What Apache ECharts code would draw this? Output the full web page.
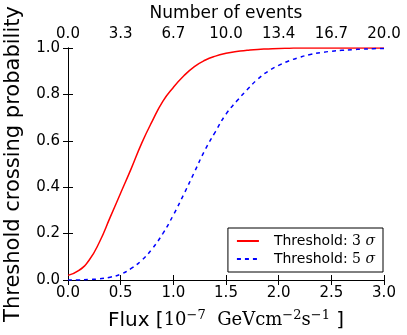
<!DOCTYPE html>
<html>
<head>
<meta charset="utf-8">
<script src="https://cdn.jsdelivr.net/npm/echarts@6/dist/echarts.min.js"></script>
<style>
html, body { margin: 0; padding: 0; background: #fff; }
#chart { width: 407px; height: 335px; }
</style>
</head>
<body>
<div id="chart"></div>
<script>
// flux values, units of 1e-7 GeV cm^-2 s^-1
var flux = [0.0, 0.1, 0.2, 0.3, 0.4, 0.5, 0.6, 0.7, 0.8, 0.9, 1.0,
            1.1, 1.2, 1.3, 1.4, 1.5, 1.6, 1.7, 1.8, 1.9, 2.0,
            2.1, 2.2, 2.3, 2.4, 2.5, 2.6, 2.7, 2.8, 2.9, 3.0];
var prob3sigma = [0.02, 0.04, 0.085, 0.165, 0.27, 0.375, 0.48, 0.59, 0.685, 0.77, 0.83,
                  0.88, 0.92, 0.947, 0.965, 0.977, 0.985, 0.99, 0.994, 0.996, 0.998,
                  0.999, 1.0, 1.0, 1.0, 1.0, 1.0, 1.0, 1.0, 1.0, 1.0];
var prob5sigma = [0.0, 0.0, 0.002, 0.005, 0.012, 0.025, 0.05, 0.085, 0.135, 0.2, 0.28,
                  0.37, 0.465, 0.56, 0.64, 0.715, 0.77, 0.82, 0.865, 0.9, 0.925,
                  0.945, 0.96, 0.972, 0.98, 0.986, 0.99, 0.993, 0.995, 0.997, 0.998];
var eventTicks = ['0.0', '3.3', '6.7', '10.0', '13.4', '16.7', '20.0'];
var seriesNames = ['Threshold: 3 σ', 'Threshold: 5 σ'];

function pairs(xs, ys) {
    return xs.map(function (x, i) { return [x, ys[i]]; });
}

var myChart = echarts.init(document.getElementById('chart'));
var font = 'DejaVu Sans';
var option = {
    animation: false,
    textStyle: { fontFamily: font },
    grid: { left: 68, right: 23, top: 48, bottom: 55, outerBoundsMode: 'none', containLabel: false },
    legend: {
        orient: 'vertical',
        right: 24,
        bottom: 63,
        itemWidth: 22,
        itemHeight: 10,
        itemGap: 4,
        padding: [6, 8, 6, 8],
        borderColor: '#000',
        borderWidth: 1,
        borderRadius: 0,
        data: seriesNames,
        itemStyle: { opacity: 0 },
        textStyle: {
            fontSize: 14, color: '#000', fontFamily: font, padding: [0, 0, 0, 10],
            rich: {
                s: { fontSize: 14, fontFamily: 'DejaVu Serif', fontStyle: 'italic', color: '#000' },
                n: { fontSize: 14, fontFamily: 'DejaVu Serif', color: '#000' }
            }
        },
        formatter: function (name) {
            var num = name.indexOf('3') >= 0 ? '3' : '5';
            return 'Threshold: {n|' + num + '} {s|σ}';
        }
    },
    xAxis: [
        {
            type: 'value', position: 'bottom',
            min: 0, max: 3, interval: 0.5,
            name: '{a|Flux [}{m|10}{sup|−7}{m|  GeVcm}{sup|−2}{m|s}{sup|−1}{a| ]}',
            nameLocation: 'middle', nameGap: 29,
            nameTextStyle: {
                rich: {
                    a: { fontSize: 20, fontFamily: font, color: '#000' },
                    m: { fontSize: 18, fontFamily: 'DejaVu Serif', color: '#000' },
                    sup: { fontSize: 13, fontFamily: 'DejaVu Serif', color: '#000', padding: [0, 0, 10, 0] }
                }
            },
            axisLine: { show: true, lineStyle: { color: '#000', width: 1 } },
            axisTick: { show: true, inside: true, length: 5, lineStyle: { color: '#000' } },
            axisLabel: { fontSize: 15, color: '#000', margin: 6, formatter: function (v) { return v.toFixed(1); } },
            splitLine: { show: false }
        },
        {
            type: 'value', position: 'top',
            min: 0, max: 6, interval: 1,
            name: 'Number of events',
            nameLocation: 'middle', nameGap: 24,
            nameTextStyle: { fontSize: 17, color: '#000' },
            axisLine: { show: true, lineStyle: { color: '#000', width: 1 } },
            axisTick: { show: true, inside: true, length: 5, lineStyle: { color: '#000' } },
            axisLabel: { fontSize: 15, color: '#000', margin: 6, formatter: function (v) { return eventTicks[v]; } },
            splitLine: { show: false }
        }
    ],
    yAxis: [
        {
            type: 'value', position: 'left',
            min: 0, max: 1, interval: 0.2,
            name: 'Threshold crossing probability',
            nameLocation: 'middle', nameGap: 44,
            nameTextStyle: { fontSize: 21, color: '#000' },
            axisLine: { show: true, lineStyle: { color: '#000', width: 1 } },
            axisTick: { show: true, inside: true, length: 5, lineStyle: { color: '#000' } },
            axisLabel: { fontSize: 15, color: '#000', margin: 8, formatter: function (v) { return v.toFixed(1); } },
            splitLine: { show: false }
        },
        {
            type: 'value', position: 'right',
            min: 0, max: 1, interval: 0.2,
            axisLine: { show: true, lineStyle: { color: '#000', width: 1 } },
            axisTick: { show: true, inside: true, length: 5, lineStyle: { color: '#000' } },
            axisLabel: { show: false },
            splitLine: { show: false }
        }
    ],
    series: [
        {
            name: seriesNames[0],
            type: 'line',
            smooth: true,
            symbol: 'none',
            data: pairs(flux, prob3sigma),
            lineStyle: { color: '#ff0000', width: 1.5, type: 'solid' },
            itemStyle: { color: '#ff0000' }
        },
        {
            name: seriesNames[1],
            type: 'line',
            smooth: true,
            symbol: 'none',
            data: pairs(flux, prob5sigma),
            lineStyle: { color: '#0000ff', width: 1.5, type: [4, 4] },
            itemStyle: { color: '#0000ff' }
        }
    ]
};
myChart.setOption(option);
</script>
</body>
</html>
